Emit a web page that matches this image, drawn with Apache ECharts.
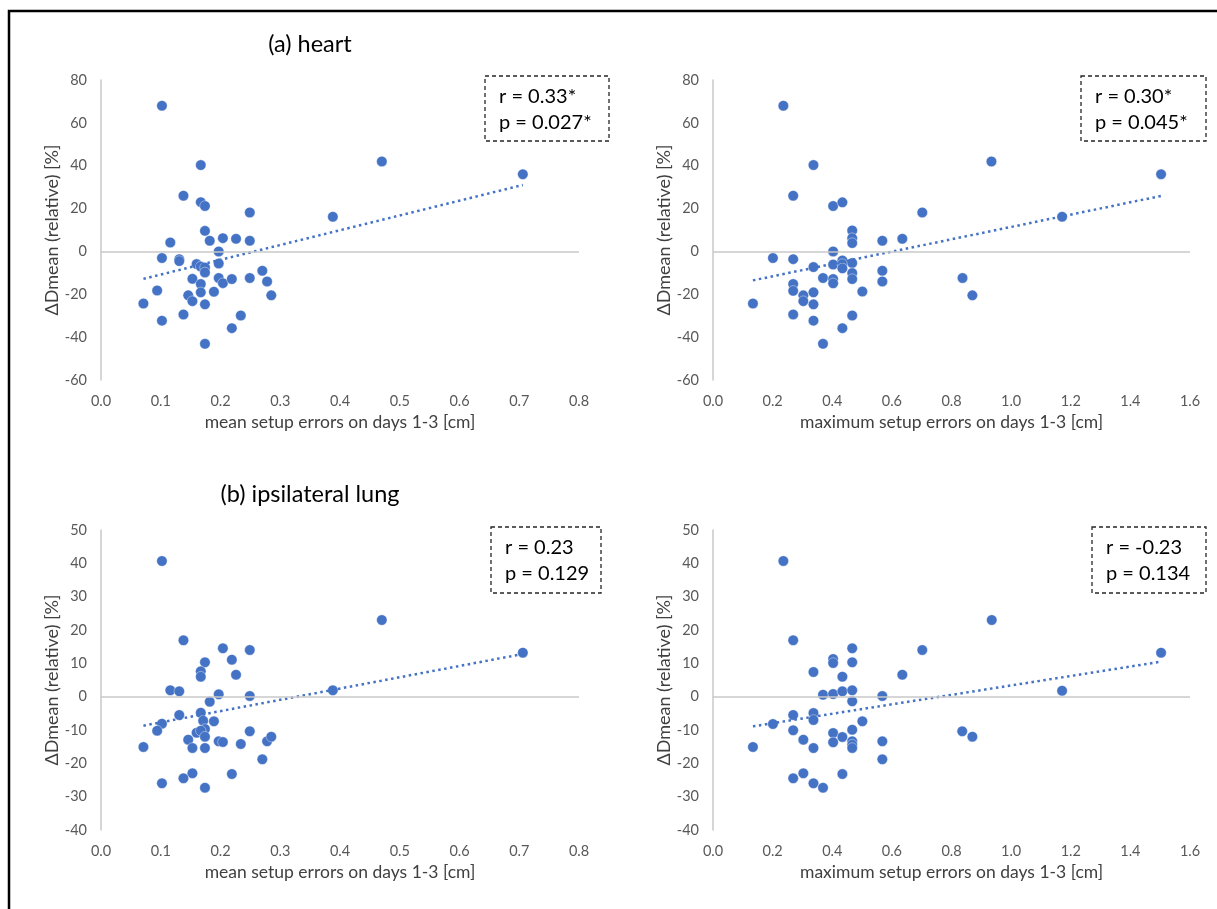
<!DOCTYPE html>
<html>
<head>
<meta charset="utf-8">
<script src="https://cdn.jsdelivr.net/npm/echarts@6/dist/echarts.min.js"></script>
<style>
  html, body { margin: 0; padding: 0; background: #fff; }
  #chart { width: 1217px; height: 909px; }
</style>
</head>
<body>
<div id="chart"></div>
<script>
// (a) heart - mean / maximum setup error vs. ΔDmean
var heartMean = [[0.102,68.0],[0.167,40.3],[0.470,42.0],[0.138,26.0],[0.167,23.0],[0.174,21.2],[0.249,18.2],[0.388,16.2],[0.174,9.6],[0.182,5.0],[0.204,6.2],[0.226,5.9],[0.249,5.0],[0.116,4.2],[0.197,0.0],[0.102,-3.1],[0.131,-3.6],[0.131,-4.5],[0.160,-5.9],[0.167,-7.0],[0.174,-7.5],[0.197,-5.6],[0.174,-9.8],[0.270,-9.0],[0.153,-12.8],[0.197,-12.4],[0.204,-14.8],[0.219,-12.9],[0.249,-12.4],[0.278,-14.0],[0.167,-15.2],[0.094,-18.2],[0.189,-18.8],[0.167,-19.1],[0.146,-20.5],[0.153,-23.2],[0.285,-20.5],[0.071,-24.3],[0.174,-24.7],[0.102,-32.3],[0.138,-29.4],[0.234,-29.9],[0.219,-35.8],[0.174,-43.1],[0.706,36.0]];
var heartMax = [[0.236,68.0],[0.337,40.3],[0.269,26.0],[0.403,21.2],[0.434,22.9],[0.702,18.2],[0.467,9.8],[0.467,6.2],[0.467,3.9],[0.568,5.0],[0.635,5.9],[0.403,0.0],[0.201,-3.1],[0.269,-3.6],[0.337,-7.3],[0.403,-6.1],[0.434,-4.2],[0.434,-5.9],[0.434,-7.9],[0.467,-5.4],[0.467,-10.1],[0.467,-12.9],[0.568,-9.0],[0.568,-14.0],[0.369,-12.4],[0.403,-12.9],[0.403,-14.9],[0.269,-15.2],[0.269,-18.4],[0.303,-20.5],[0.303,-23.2],[0.337,-19.1],[0.337,-24.7],[0.501,-18.7],[0.134,-24.3],[0.269,-29.4],[0.337,-32.3],[0.467,-29.9],[0.434,-35.8],[0.369,-43.1],[0.837,-12.4],[0.870,-20.5],[0.934,42.0],[1.171,16.2],[1.503,36.0]];
// (b) ipsilateral lung
var lungMean = [[0.102,40.7],[0.470,23.0],[0.138,16.9],[0.204,14.5],[0.249,14.0],[0.219,11.1],[0.174,10.3],[0.167,7.6],[0.167,6.0],[0.226,6.6],[0.116,1.9],[0.131,1.6],[0.388,1.9],[0.197,0.7],[0.249,0.2],[0.182,-1.5],[0.131,-5.5],[0.167,-4.8],[0.171,-7.2],[0.189,-7.4],[0.102,-8.1],[0.094,-10.2],[0.174,-9.7],[0.160,-10.8],[0.167,-10.2],[0.174,-12.0],[0.249,-10.4],[0.146,-12.9],[0.197,-13.4],[0.204,-13.6],[0.234,-14.2],[0.278,-13.4],[0.285,-12.0],[0.153,-15.4],[0.174,-15.4],[0.071,-15.1],[0.270,-18.8],[0.153,-23.0],[0.138,-24.5],[0.219,-23.2],[0.102,-26.0],[0.174,-27.3],[0.706,13.2]];
var lungMax = [[0.236,40.7],[0.935,23.0],[0.269,16.9],[0.467,14.5],[0.702,14.0],[0.403,11.3],[0.403,10.1],[0.467,10.3],[0.337,7.4],[0.434,6.0],[0.635,6.6],[0.369,0.6],[0.403,0.8],[0.434,1.6],[0.467,1.9],[0.568,0.2],[0.467,-1.4],[0.269,-5.5],[0.337,-4.9],[0.337,-7.0],[0.501,-7.4],[0.201,-8.2],[0.269,-10.1],[0.467,-9.9],[0.403,-10.9],[0.434,-12.1],[0.303,-12.9],[0.403,-13.7],[0.467,-13.4],[0.467,-14.4],[0.467,-15.4],[0.337,-15.4],[0.568,-13.4],[0.568,-18.8],[0.134,-15.1],[0.836,-10.4],[0.870,-12.0],[0.303,-23.0],[0.269,-24.5],[0.434,-23.2],[0.337,-26.0],[0.369,-27.3],[1.171,1.8],[1.503,13.2]];

// linear trend lines (end points)
var trendHeartMean = [[0.071,-12.8],[0.706,31.0]];
var trendHeartMax = [[0.134,-13.5],[1.503,25.9]];
var trendLungMean = [[0.071,-8.7],[0.706,12.8]];
var trendLungMax = [[0.134,-8.9],[1.503,10.5]];

var statR = ['r = 0.33*', 'r = 0.30*', 'r = 0.23', 'r = -0.23'];
var statP = ['p = 0.027*', 'p = 0.045*', 'p = 0.129', 'p = 0.134'];
var panelTitles = ['(a) heart', '(b) ipsilateral lung'];
var xNames = ['mean setup errors on days 1-3 [cm]', 'maximum setup errors on days 1-3 [cm]'];
var yName = 'ΔDmean (relative) [%]';

var FONT = 'Lato, "Open Sans", sans-serif';
var BLUE = '#4472C4';

var chart = echarts.init(document.getElementById('chart'));

var grids = [
	{ left: 101, top: 80, width: 478, height: 300 },
	{ left: 713, top: 80, width: 477, height: 300 },
	{ left: 101, top: 530, width: 478, height: 300 },
	{ left: 713, top: 530, width: 477, height: 300 }
];

function xAxisFor(i) {
	var isMax = i % 2 === 1;
	return {
		gridIndex: i,
		type: 'value',
		min: 0,
		max: isMax ? 1.6 : 0.8,
		interval: isMax ? 0.2 : 0.1,
		name: xNames[i % 2],
		nameLocation: 'middle',
		nameGap: 33,
		nameTextStyle: { fontFamily: FONT, fontSize: 17.5, color: '#404040' },
		axisLine: { show: false },
		axisTick: { show: false },
		splitLine: { show: false },
		axisLabel: {
			fontFamily: FONT, fontSize: 14.5, color: '#595959', margin: 14,
			formatter: function (v) { return v.toFixed(1); }
		}
	};
}

function yAxisFor(i) {
	var top = i < 2;
	return {
		gridIndex: i,
		type: 'value',
		min: top ? -60 : -40,
		max: top ? 80 : 50,
		interval: top ? 20 : 10,
		name: yName,
		nameLocation: 'middle',
		nameGap: 38,
		nameTextStyle: { fontFamily: FONT, fontSize: 18, color: '#404040' },
		axisLine: { show: true, onZero: false, lineStyle: { color: '#C8C8C8', width: 1.5 } },
		axisTick: { show: false },
		splitLine: { show: false },
		axisLabel: { fontFamily: FONT, fontSize: 14.5, color: '#595959', margin: 14 }
	};
}

var pointSets = [heartMean, heartMax, lungMean, lungMax];
var trendSets = [trendHeartMean, trendHeartMax, trendLungMean, trendLungMax];
var series = [];
pointSets.forEach(function (pts, i) {
	series.push({
		type: 'scatter',
		xAxisIndex: i,
		yAxisIndex: i,
		data: pts,
		symbolSize: 10.5,
		itemStyle: { color: BLUE, opacity: 1, borderColor: '#fff', borderWidth: 0.4 },
		markLine: {
			silent: true,
			symbol: ['none', 'none'],
			label: { show: false },
			lineStyle: { color: '#C8C8C8', width: 1.5, type: 'solid' },
			data: [{ yAxis: 0 }]
		},
		z: 3
	});
	series.push({
		type: 'line',
		xAxisIndex: i,
		yAxisIndex: i,
		data: trendSets[i],
		showSymbol: false,
		symbol: 'none',
		lineStyle: { color: BLUE, width: 2.5, type: [2.5, 3.5] },
		z: 4
	});
});

// dashed stat boxes
var boxes = [
	{ x: 485, y: 76, w: 124, h: 65 },
	{ x: 1081, y: 76, w: 125, h: 65 },
	{ x: 491, y: 527, w: 110, h: 66 },
	{ x: 1092, y: 527, w: 114, h: 66 }
];
var graphics = [
	{
		type: 'rect', silent: true, z: 0,
		shape: { x: 9, y: 11, width: 1230, height: 920 },
		style: { fill: 'none', stroke: '#000', lineWidth: 2.5 }
	},
	{
		type: 'text', x: 310, y: 44,
		style: { text: panelTitles[0], font: '23.5px ' + FONT, fill: '#000', align: 'center', verticalAlign: 'middle' }
	},
	{
		type: 'text', x: 310, y: 494,
		style: { text: panelTitles[1], font: '23.5px ' + FONT, fill: '#000', align: 'center', verticalAlign: 'middle' }
	}
];
boxes.forEach(function (b, i) {
	graphics.push({
		type: 'rect', silent: true,
		shape: { x: b.x, y: b.y, width: b.w, height: b.h },
		style: { fill: '#fff', stroke: '#262626', lineWidth: 1.3, lineDash: [4, 3] }
	});
	graphics.push({
		type: 'text', silent: true, x: b.x + 14, y: b.y + 21,
		style: { text: statR[i], font: '20px ' + FONT, fill: '#000', verticalAlign: 'middle' }
	});
	graphics.push({
		type: 'text', silent: true, x: b.x + 14, y: b.y + 47,
		style: { text: statP[i], font: '20px ' + FONT, fill: '#000', verticalAlign: 'middle' }
	});
});

chart.setOption({
	backgroundColor: '#fff',
	animation: false,
	grid: grids.map(function (g) {
		return { left: g.left, top: g.top, width: g.width, height: g.height, containLabel: false, outerBoundsMode: 'none' };
	}),
	xAxis: [0, 1, 2, 3].map(xAxisFor),
	yAxis: [0, 1, 2, 3].map(yAxisFor),
	series: series,
	graphic: graphics
});
</script>
</body>
</html>
